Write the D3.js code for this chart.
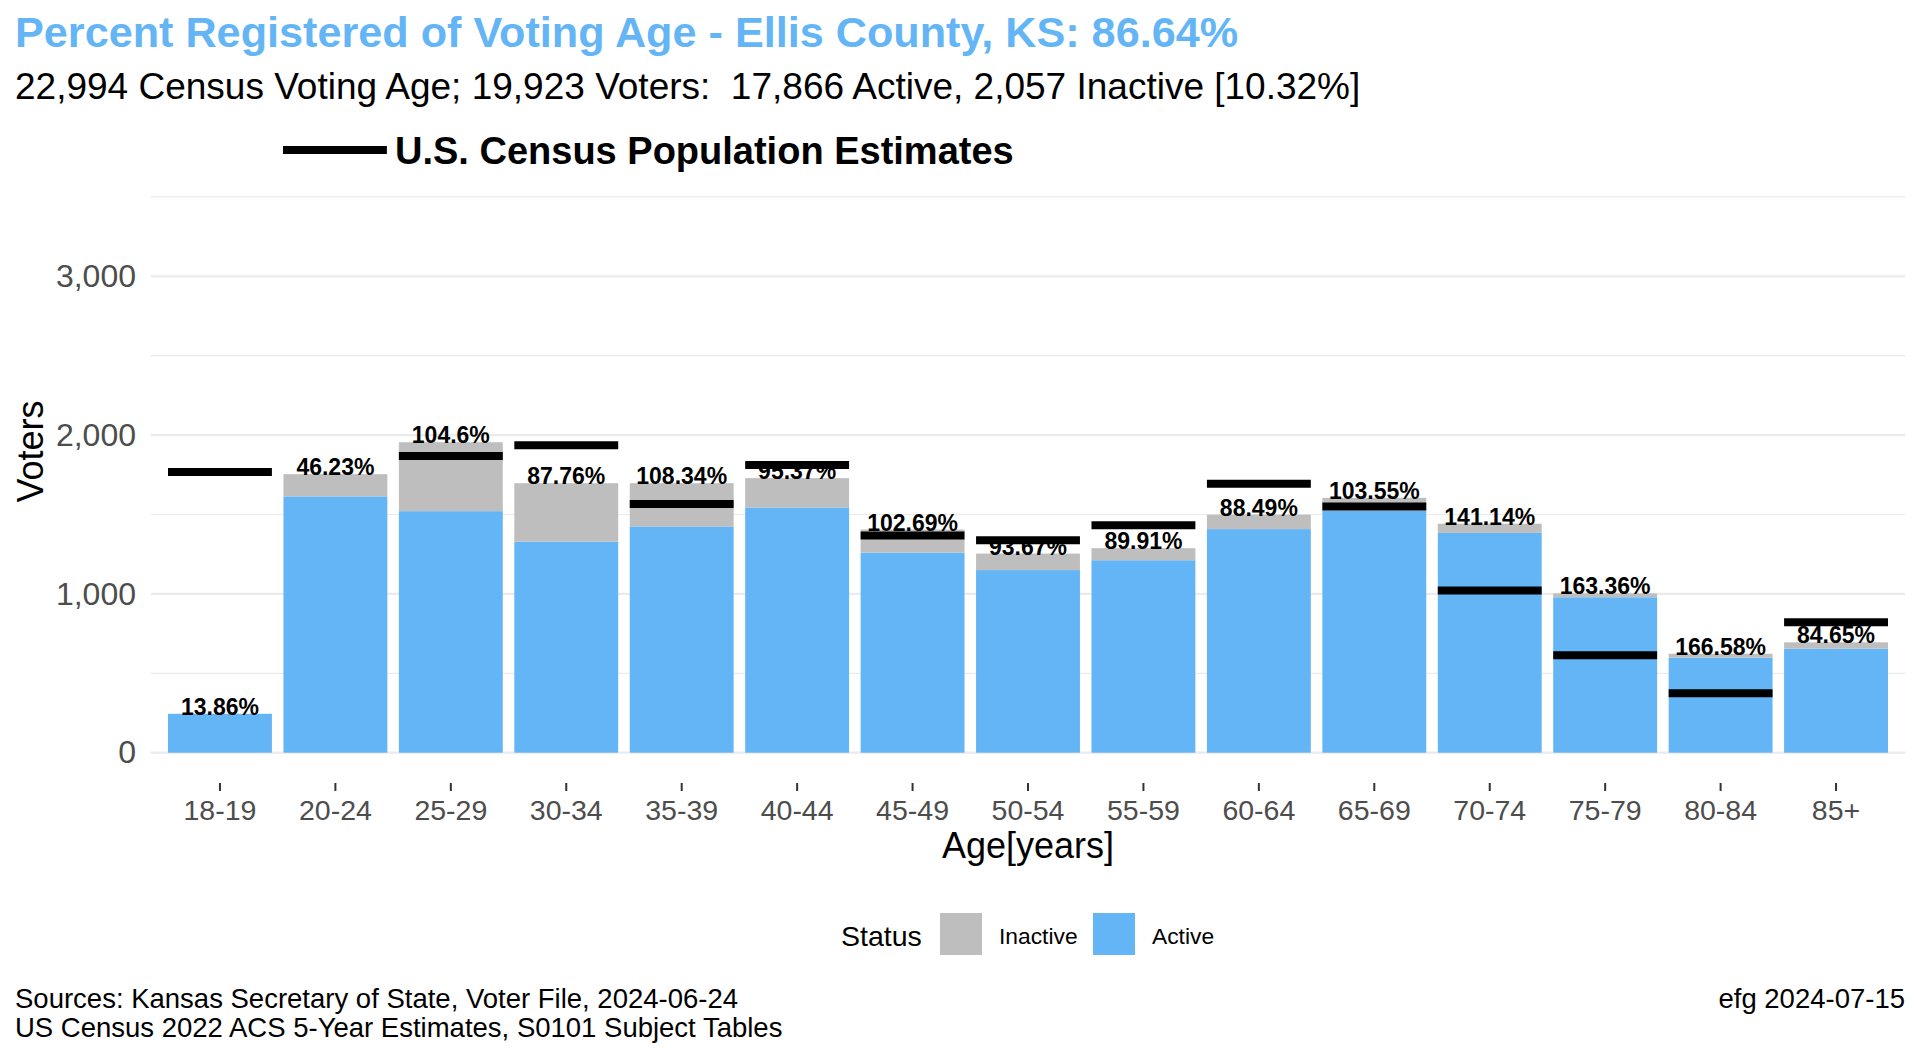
<!DOCTYPE html>
<html>
<head>
<meta charset="utf-8">
<script src="https://cdn.jsdelivr.net/npm/d3@7"></script>
<style>
  html, body { margin: 0; padding: 0; background: #ffffff; }
  svg { display: block; font-family: "Liberation Sans", Arial, sans-serif; }
  text { white-space: pre; }
</style>
</head>
<body>
<svg id="chart" width="1920" height="1056"></svg>
<script>
// ---- data ----
const categories = ["18-19","20-24","25-29","30-34","35-39","40-44","45-49","50-54","55-59","60-64","65-69","70-74","75-79","80-84","85+"];
const activeVals   = [245, 1614, 1521, 1329, 1425, 1544, 1260, 1150, 1212, 1408, 1524, 1384, 979, 598, 655];
const inactiveVals = [0, 140, 434, 368, 272, 185, 145, 104, 76, 91, 81, 58, 24, 25, 40];
const censusVals   = [1768, 3794, 1869, 1936, 1566, 1812, 1367, 1338, 1432, 1694, 1550, 1022, 614, 374, 821];
const pctLabels    = ["13.86%","46.23%","104.6%","87.76%","108.34%","95.37%","102.69%","93.67%","89.91%","88.49%","103.55%","141.14%","163.36%","166.58%","84.65%"];
const yTicks       = [0, 1000, 2000, 3000];
const yMinorTicks  = [500, 1500, 2500, 3500];
const statusKeys   = ["Inactive", "Active"];

const titleText    = "Percent Registered of Voting Age - Ellis County, KS: 86.64%";
const subtitleText = "22,994 Census Voting Age; 19,923 Voters:  17,866 Active, 2,057 Inactive [10.32%]";
const censusLegend = "U.S. Census Population Estimates";
const captionLeft  = ["Sources: Kansas Secretary of State, Voter File, 2024-06-24", "US Census 2022 ACS 5-Year Estimates, S0101 Subject Tables"];
const captionRight = "efg 2024-07-15";

// ---- styles ----
const colors = { Active: "#64B5F6", Inactive: "#BEBEBE" };
const svg = d3.select("#chart");

const panel = { left: 150.7, right: 1905.3 };
const yMax = 3500;

const x = d3.scaleBand()
  .domain(categories)
  .range([panel.left, panel.right])
  .paddingInner(0.1)
  .paddingOuter(0.15);

const y = d3.scaleLinear().domain([0, yMax]).range([752.7, 196.9]);

const rows = categories.map((c, i) => ({
  cat: c, active: activeVals[i], inactive: inactiveVals[i],
  total: activeVals[i] + inactiveVals[i], census: censusVals[i], pct: pctLabels[i]
}));

// gridlines
const g = svg.append("g");
g.selectAll("line.minor").data(yMinorTicks).join("line")
  .attr("x1", panel.left).attr("x2", panel.right)
  .attr("y1", d => y(d)).attr("y2", d => y(d))
  .attr("stroke", "#EBEBEB").attr("stroke-width", 1.2);
g.selectAll("line.major").data(yTicks).join("line")
  .attr("x1", panel.left).attr("x2", panel.right)
  .attr("y1", d => y(d)).attr("y2", d => y(d))
  .attr("stroke", "#EBEBEB").attr("stroke-width", 2.2);

// y axis labels
const yAxis = d3.axisLeft(y).tickValues(yTicks).tickFormat(d3.format(",")).tickSize(0).tickPadding(0);
const yg = svg.append("g").attr("transform", "translate(136,0)").call(yAxis);
yg.select(".domain").remove();
yg.selectAll("text").attr("font-size", 32).attr("fill", "#4D4D4D")
  .attr("font-family", "Liberation Sans, Arial, sans-serif");

// x axis
const xAxis = d3.axisBottom(x).tickSize(8).tickPadding(9);
const xg = svg.append("g").attr("transform", "translate(0,783)").call(xAxis);
xg.select(".domain").remove();
xg.selectAll(".tick line").attr("stroke", "#333333").attr("stroke-width", 2);
xg.selectAll("text").attr("font-size", 28.5).attr("fill", "#4D4D4D")
  .attr("font-family", "Liberation Sans, Arial, sans-serif");

// stacked bars
const stack = d3.stack().keys(["active", "inactive"]);
const series = stack(rows);
svg.append("g").selectAll("g").data(series).join("g")
  .attr("fill", d => d.key === "active" ? colors.Active : colors.Inactive)
  .selectAll("rect").data(d => d).join("rect")
  .attr("x", d => x(d.data.cat))
  .attr("width", x.bandwidth())
  .attr("y", d => y(d[1]))
  .attr("height", d => y(d[0]) - y(d[1]));

// percent labels
svg.append("g").selectAll("text").data(rows).join("text")
  .attr("x", d => x(d.cat) + x.bandwidth() / 2)
  .attr("y", d => y(d.total) + 1)
  .attr("text-anchor", "middle")
  .attr("font-size", 23).attr("font-weight", "bold").attr("fill", "#000")
  .text(d => d.pct);

// census lines (values beyond the axis limit are dropped)
svg.append("g").selectAll("line").data(rows.filter(d => d.census <= yMax)).join("line")
  .attr("x1", d => x(d.cat)).attr("x2", d => x(d.cat) + x.bandwidth())
  .attr("y1", d => y(d.census)).attr("y2", d => y(d.census))
  .attr("stroke", "#000").attr("stroke-width", 8);

// axis titles
svg.append("text").attr("x", (panel.left + panel.right) / 2).attr("y", 858)
  .attr("text-anchor", "middle").attr("font-size", 36).attr("fill", "#000").text("Age[years]");
svg.append("text").attr("transform", "translate(43,451.5) rotate(-90)")
  .attr("text-anchor", "middle").attr("font-size", 36).attr("fill", "#000").text("Voters");

// title & subtitle
svg.append("text").attr("x", 15).attr("y", 47).attr("font-size", 43.2).attr("font-weight", "bold")
  .attr("fill", colors.Active).text(titleText);
svg.append("text").attr("x", 15).attr("y", 99).attr("font-size", 37).attr("fill", "#000").text(subtitleText);

// census legend (top)
svg.append("line").attr("x1", 283).attr("x2", 283 + x.bandwidth()).attr("y1", 150).attr("y2", 150)
  .attr("stroke", "#000").attr("stroke-width", 8);
svg.append("text").attr("x", 395).attr("y", 164).attr("font-size", 38).attr("font-weight", "bold")
  .attr("fill", "#000").text(censusLegend);

// status legend (bottom)
svg.append("text").attr("x", 841).attr("y", 946).attr("font-size", 28.5).attr("fill", "#000").text("Status");
const legX = [940, 1093];
statusKeys.forEach((k, i) => {
  svg.append("rect").attr("x", legX[i]).attr("y", 913).attr("width", 42).attr("height", 42).attr("fill", colors[k]);
  svg.append("text").attr("x", legX[i] + 59).attr("y", 944).attr("font-size", 22.8).attr("fill", "#000").text(k);
});

// caption
svg.append("g").selectAll("text").data(captionLeft).join("text")
  .attr("x", 15).attr("y", (d, i) => 1008 + i * 28.5)
  .attr("font-size", 27.5).attr("fill", "#000").text(d => d);
svg.append("text").attr("x", 1905).attr("y", 1008).attr("text-anchor", "end")
  .attr("font-size", 27.5).attr("fill", "#000").text(captionRight);
</script>
</body>
</html>
